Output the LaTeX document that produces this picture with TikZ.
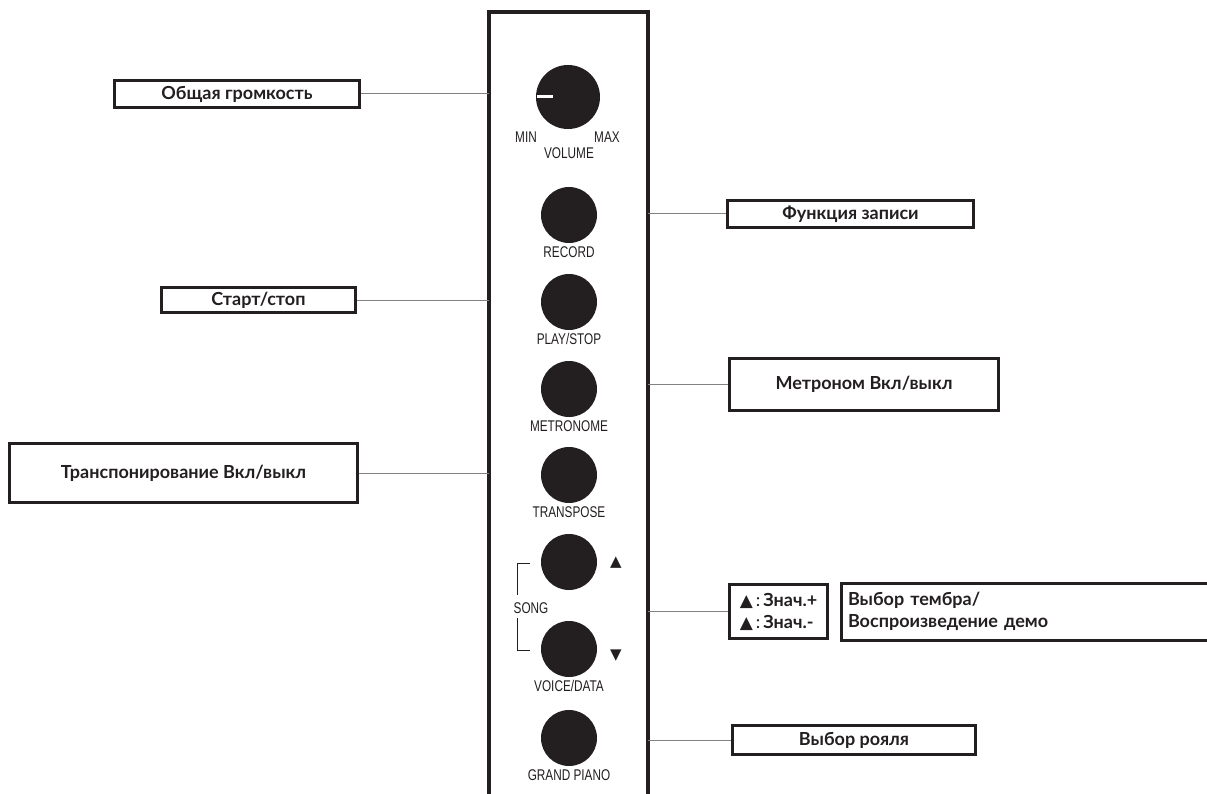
\documentclass[tikz,border=0pt]{standalone}
\usepackage{fontspec}
\setmainfont{Lato}
\newfontfamily\panelfont[FakeStretch=0.76]{Liberation Sans}
\newfontfamily\symbolfont{DejaVu Sans}
\usetikzlibrary{positioning}
\definecolor{ink}{HTML}{231F20}
\definecolor{wiregray}{HTML}{808285}
\newcommand{\upsign}{{\symbolfont\fontsize{17}{17}\selectfont▲}\hspace{3pt}{\mdseries:}\hspace{3pt}}

\begin{document}
\begin{tikzpicture}[x=1pt,y=-1pt,
    button/.style={circle,fill=ink,minimum size=56pt,inner sep=0pt},
    caption/.style={font=\panelfont\fontsize{15.5}{17}\selectfont,text=ink,inner sep=0pt},
    arrowmark/.style={font=\symbolfont\fontsize{15}{15}\selectfont,text=ink,inner sep=0pt},
    callout/.style={draw=ink,line width=3pt,fill=white,text=ink,inner sep=0pt,
      font=\bfseries\fontsize{18}{22}\selectfont},
    wire/.style={wiregray,line width=1pt}]
  \useasboundingbox (0,0) rectangle (1207,794);
  \clip (0,0) rectangle (1207,794);

  % panel
  \draw[ink,line width=4pt] (489,800) -- (489,12) -- (648,12) -- (648,800);
  \coordinate (panelL) at (489,0);
  \coordinate (panelR) at (648,0);

  \node[button,minimum size=64pt] (volume) at (568,97) {};
  \fill[white] (537,95.5) rectangle (553,98.5);
  \node[caption] (min) at (526,137) {MIN};
  \node[caption] (max) at (607,137) {MAX};
  \node[caption] (volcap) at (569,153) {VOLUME};

  \node[button] (record) at (569,215) {};
  \node[caption,below=3pt of record] (reccap) {RECORD};
  \node[button] (play) at (569,302) {};
  \node[caption,below=3pt of play] (playcap) {PLAY/STOP};
  \node[button] (metro) at (569,389) {};
  \node[caption,below=3pt of metro] (metrocap) {METRONOME};
  \node[button] (transp) at (569,475) {};
  \node[caption,below=3pt of transp] (transpcap) {TRANSPOSE};
  \node[button] (songup) at (569,562) {};
  \node[arrowmark] (upmark) at (616,563) {▲};
  \node[caption] (songcap) at (531,608) {SONG};
  \node[button] (voice) at (569,649) {};
  \node[arrowmark] (downmark) at (616,656) {▼};
  \node[caption,below=3pt of voice] (voicecap) {VOICE/DATA};
  \node[button] (piano) at (569,738) {};
  \node[caption,below=3pt of piano] (pianocap) {GRAND PIANO};
  \draw[ink,line width=1pt] (530,563) -- (517,563) -- (517,595)
    (517,618) -- (517,650) -- (530,650);

  % callouts
  \node[callout,minimum width=245,minimum height=27] (volbox) at (237,94) {Общая громкость};
  \node[callout,minimum width=246,minimum height=27] (recbox) at (850.5,214) {Функция записи};
  \node[callout,minimum width=194,minimum height=25] (playbox) at (258.5,300) {Старт/стоп};
  \node[callout,minimum width=269,minimum height=52] (metrobox) at (864,384.5) {Метроном Вкл/выкл};
  \node[callout,minimum width=348,minimum height=59] (transpbox) at (183.5,473) {Транспонирование Вкл/выкл};
  \node[callout,minimum width=98,minimum height=54,align=left] (valbox) at (778.5,611.5)
    {\upsign Знач.+\\ \upsign Знач.-};
  \node[callout,right=11pt of valbox,text width=359,inner xsep=6.5pt,minimum height=57,
    align=left] (voicebox) {Выбор тембра/\\Воспроизведение демо};
  \node[callout,minimum width=243,minimum height=29] (pianobox) at (854,740) {Выбор рояля};

  \draw[wire] (volbox.east) -- (volbox.east -| panelL);
  \draw[wire] (playbox.east) -- (playbox.east -| panelL);
  \draw[wire] (transpbox.east) -- (transpbox.east -| panelL);
  \draw[wire] (recbox.west) -- (recbox.west -| panelR);
  \draw[wire] (metrobox.west) -- (metrobox.west -| panelR);
  \draw[wire] (valbox.west) -- (valbox.west -| panelR);
  \draw[wire] (pianobox.west) -- (pianobox.west -| panelR);
\end{tikzpicture}
\end{document}
